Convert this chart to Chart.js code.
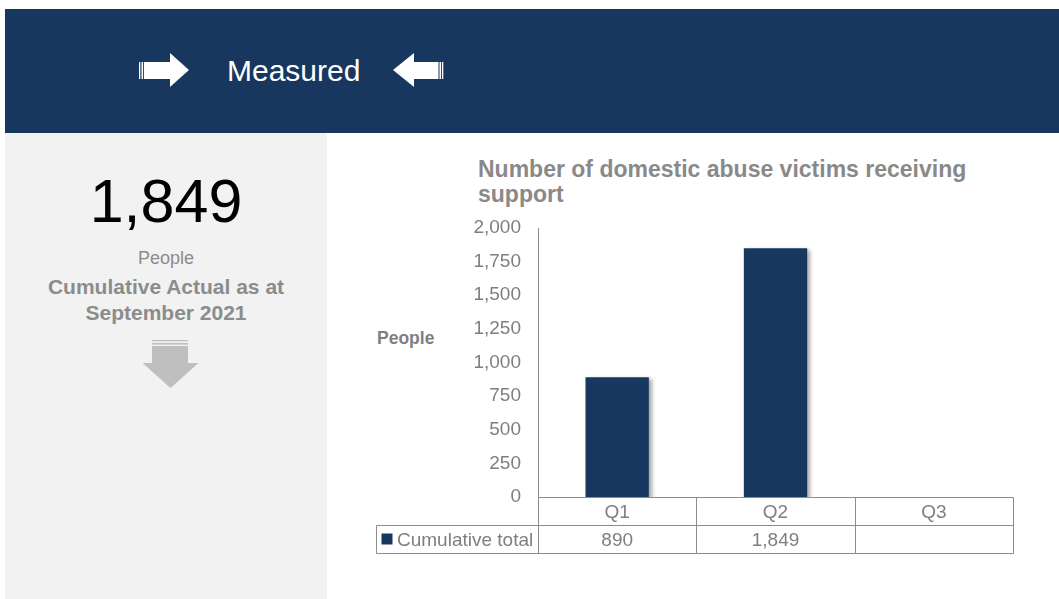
<!DOCTYPE html>
<html>
<head>
<meta charset="utf-8">
<script src="https://cdn.jsdelivr.net/npm/chart.js@4.4.0/dist/chart.umd.min.js"></script>
<style>
  body { margin: 0; width: 1059px; height: 599px; background: #fff; position: relative; overflow: hidden;
         font-family: "Liberation Sans", Arial, sans-serif; }
  .abs { position: absolute; white-space: nowrap; }
  #header { left: 5px; top: 9px; width: 1054px; height: 124px; background: #17375E; }
  #measured { left: 227px; top: 55.6px; font-size: 30px; line-height: 30px; color: #fff; }
  #panel { left: 5px; top: 133px; width: 322px; height: 466px; background: #F2F2F2; }
  .ctr { left: 5px; width: 322px; text-align: center; }
  #big { top: 170.5px; font-size: 61px; line-height: 61px; color: #000; }
  #unit { top: 248.5px; font-size: 18px; line-height: 18px; color: #8c8c8c; }
  #caption { top: 273.7px; font-size: 21px; line-height: 26px; font-weight: bold; color: #8c8c8c; }
  #title { left: 478px; top: 156.6px; font-size: 23px; line-height: 25.5px; font-weight: bold; color: #898989; }
  #ylabel { left: 377px; top: 329.5px; font-size: 17.5px; line-height: 17px; font-weight: bold; color: #7f7f7f; }
  #chartBox { left: 340px; top: 150px; width: 719px; height: 449px; }
</style>
</head>
<body>
<div id="header" class="abs"></div>
<svg class="abs" style="left:0;top:0" width="1059" height="140">
  <g fill="#fff">
    <rect x="139" y="62" width="1.3" height="17"/>
    <rect x="141.5" y="62" width="1.6" height="17"/>
    <rect x="144" y="62" width="26.5" height="17"/>
    <polygon points="170,53 189,70 170,87"/>
    <rect x="413.5" y="62" width="25" height="17"/>
    <rect x="439.5" y="62" width="1.6" height="17"/>
    <rect x="442" y="62" width="1.3" height="17"/>
    <polygon points="414,53 393,70 414,87"/>
  </g>
</svg>
<div id="measured" class="abs">Measured</div>

<div id="panel" class="abs"></div>
<div id="big" class="abs ctr">1,849</div>
<div id="unit" class="abs ctr">People</div>
<div id="caption" class="abs ctr">Cumulative Actual as at<br>September 2021</div>
<svg class="abs" style="left:0;top:330px" width="330" height="70">
  <g fill="#BFBFBF">
    <rect x="152" y="10" width="36" height="1.3"/>
    <rect x="152" y="13" width="36" height="1.6"/>
    <rect x="152" y="16" width="36" height="17.5"/>
    <polygon points="142.5,33 198.5,33 170.5,58"/>
  </g>
</svg>

<div id="title" class="abs">Number of domestic abuse victims receiving<br>support</div>
<div id="ylabel" class="abs">People</div>
<div id="chartBox" class="abs"><canvas id="chart" width="719" height="449"></canvas></div>

<script>
// chart data
var quarters = ['Q1', 'Q2', 'Q3'];
var cumulativeTotal = [890, 1849, null];
var seriesName = 'Cumulative total';
var yMax = 2000;
var yStep = 250;

var barColor = '#18375E';
var greyText = '#7f7f7f';
var tableFont = '19px "Liberation Sans", Arial, sans-serif';

function fmt(v) {
    return v == null ? '' : Number(v).toLocaleString('en-GB');
}

// soft shadow behind the bars
var barShadow = {
    id: 'barShadow',
    beforeDatasetsDraw: function(chart) {
        var ctx = chart.ctx;
        ctx.save();
        ctx.shadowColor = 'rgba(0,0,0,0.35)';
        ctx.shadowBlur = 4;
        ctx.shadowOffsetX = 3;
        ctx.shadowOffsetY = 2;
    },
    afterDatasetsDraw: function(chart) {
        chart.ctx.restore();
    }
};

// data table under the x axis
var dataTable = {
    id: 'dataTable',
    afterDraw: function(chart) {
        var ctx = chart.ctx;
        var x = chart.scales.x;
        var area = chart.chartArea;
        var n = quarters.length;
        var w = (x.right - x.left) / n;
        var rowH = 28;
        var left = 36.5;
        var y0 = Math.round(area.bottom) + 0.5, y1 = y0 + rowH, y2 = y1 + rowH;
        var right = Math.round(x.right) + 0.5;

        ctx.save();
        ctx.strokeStyle = '#8c8c8c';
        ctx.lineWidth = 1;
        ctx.beginPath();
        ctx.moveTo(Math.round(x.left) + 0.5, y0); ctx.lineTo(right, y0);
        ctx.moveTo(left, y1); ctx.lineTo(right, y1);
        ctx.moveTo(left, y2); ctx.lineTo(right, y2);
        for (var i = 0; i <= n; i++) {
            var xx = Math.round(x.left + i * w) + 0.5;
            ctx.moveTo(xx, y0); ctx.lineTo(xx, y2);
        }
        ctx.moveTo(left, y1); ctx.lineTo(left, y2);
        ctx.stroke();

        ctx.font = tableFont;
        ctx.fillStyle = greyText;
        ctx.textAlign = 'center';
        ctx.textBaseline = 'middle';
        for (var j = 0; j < n; j++) {
            var cx = x.getPixelForValue(j);
            ctx.fillText(quarters[j], cx, y0 + rowH / 2 + 1);
            ctx.fillText(fmt(cumulativeTotal[j]), cx, y1 + rowH / 2 + 1);
        }
        ctx.fillStyle = barColor;
        ctx.fillRect(left + 5, y1 + 8, 11, 11);
        ctx.fillStyle = greyText;
        ctx.textAlign = 'left';
        ctx.fillText(seriesName, left + 20.5, y1 + rowH / 2 + 1);
        ctx.restore();
    }
};

new Chart(document.getElementById('chart').getContext('2d'), {
    type: 'bar',
    data: {
        labels: quarters,
        datasets: [{
            label: seriesName,
            data: cumulativeTotal,
            backgroundColor: barColor,
            borderWidth: 0,
            categoryPercentage: 1,
            barPercentage: 0.4
        }]
    },
    options: {
        responsive: false,
        animation: false,
        layout: { padding: { left: 0, right: 46, top: 78, bottom: 102 } },
        plugins: {
            legend: { display: false },
            tooltip: { enabled: false }
        },
        scales: {
            x: { display: false, offset: true },
            y: {
                min: 0,
                max: yMax,
                afterFit: function(scale) { scale.width = 198; },
                grid: { display: false, drawTicks: false },
                border: { display: true, color: '#8c8c8c', width: 1 },
                ticks: {
                    stepSize: yStep,
                    padding: 17,
                    color: greyText,
                    font: { family: '"Liberation Sans", Arial, sans-serif', size: 19 },
                    callback: function(v) { return fmt(v); }
                }
            }
        }
    },
    plugins: [barShadow, dataTable]
});
</script>
</body>
</html>
